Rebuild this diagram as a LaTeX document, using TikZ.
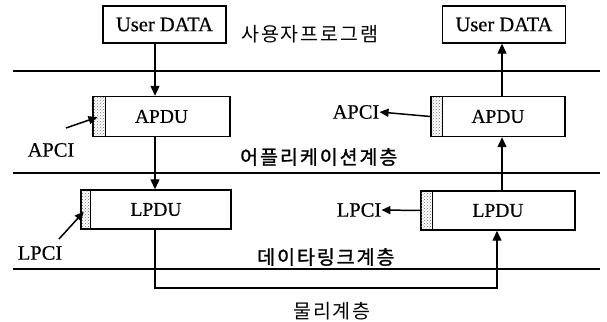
\documentclass[tikz,border=0pt]{standalone}
\usepackage{fontspec}
\setmainfont{Liberation Serif}[FakeBold=0.5]
\newfontfamily\kor[LetterSpace=10]{Noto Sans CJK KR}
\newfontfamily\korb[LetterSpace=10,FakeBold=1.2]{Noto Sans CJK KR}
\usetikzlibrary{arrows.meta, positioning, patterns}

\begin{document}
\begin{tikzpicture}[
    x=1pt, y=-1pt,
    databox/.style={rectangle, draw, line width=1.4pt, minimum width=123pt, minimum height=37pt, inner sep=0pt, font=\fontsize{20.5}{20.5}\selectfont},
    pdubox/.style={rectangle, draw, line width=1.4pt, minimum height=40pt, inner sep=0pt, font=\fontsize{19.5}{19.5}\selectfont},
    pcistrip/.style={rectangle, draw, line width=1.1pt, pattern=crosshatch dots, pattern color=black!55, minimum height=40pt, minimum width=12pt, inner sep=0pt, anchor=west},
    pcilabel/.style={inner sep=0pt, font=\fontsize{20.5}{20.5}\selectfont},
    layerlabel/.style={inner sep=0pt, anchor=west, font=\kor\fontsize{19.5}{19.5}\selectfont},
    boldlabel/.style={inner sep=0pt, anchor=west, font=\korb\fontsize{19.5}{19.5}\selectfont},
    layerline/.style={line width=1.2pt},
    arrow/.style={-{Triangle[length=10pt, width=9pt]}, line width=1.2pt},
    pciarrow/.style={-{Triangle[length=9pt, width=8pt]}, line width=1.5pt}
]
\useasboundingbox (0,0) rectangle (607,321);

% Layer boundaries
\draw[layerline] (13,71) -- (600,71);
\draw[layerline] (13,173) -- (600,173);
\draw[layerline] (13,269) -- (600,269);

% Columns of the data flow
\coordinate (colL) at (155,0);
\coordinate (colR) at (502,0);
\coordinate (colRb) at (497,0);
\coordinate (phys) at (0,288);

% User program layer
\node[databox] (userL) at (164.5,24.5) {User DATA};
\node[databox] (userR) at (504,24.5) {User DATA};
\node[layerlabel] (lblUser) at (241,34) {사용자프로그램};

% Application layer
\node[pdubox, minimum width=137pt] (apduL) at (161.5,116.5) {APDU};
\node[pcistrip, minimum width=13pt] (stripAL) at (apduL.west) {};
\node[pdubox, minimum width=134pt] (apduR) at (498,116.5) {APDU};
\node[pcistrip] (stripAR) at (apduR.west) {};
\node[pcilabel] (apciL) at (51,150) {APCI};
\node[pcilabel] (apciR) at (356,112) {APCI};
\node[boldlabel] (lblApp) at (240,157) {어플리케이션계층};
\coordinate (apciLtail) at (66,128);

% Data link layer
\node[pdubox, minimum width=150pt, minimum height=39pt] (lpduL) at (156,209.5) {LPDU};
\node[pcistrip, minimum width=10pt, minimum height=39pt] (stripLL) at (lpduL.west) {};
\node[pdubox, minimum width=154pt, minimum height=39pt] (lpduR) at (498,210.5) {LPDU};
\node[pcistrip, minimum height=39pt] (stripLR) at (lpduR.west) {};
\node[pcilabel] (lpciL) at (40,253) {LPCI};
\node[pcilabel] (lpciR) at (359,210) {LPCI};
\node[boldlabel] (lblLink) at (257,257) {데이타링크계층};
\coordinate (lpciLtail) at (59,239);

% Physical layer
\node[layerlabel] (lblPhys) at (293,311) {물리계층};

% Sending side (down)
\draw[arrow] (userL.south -| colL) -- (apduL.north -| colL);
\draw[arrow] (apduL.south -| colL) -- (lpduL.north -| colL);
\draw[arrow] (lpduL.south -| colL) |- (phys -| colRb) -- (lpduR.south -| colRb);

% Receiving side (up)
\draw[arrow] (lpduR.north -| colR) -- (apduR.south -| colR);
\draw[arrow] (apduR.north -| colR) -- (userR.south -| colR);

% Protocol control information
\draw[pciarrow, shorten >=2pt] (apciLtail) -- (stripAL.center);
\draw[pciarrow, shorten >=3pt] (lpciLtail) -- (stripLL.center);
\draw[pciarrow] (stripAR.west) -- (apciR.east);
\draw[pciarrow] (stripLR.west) -- (lpciR.east);

\end{tikzpicture}
\end{document}
